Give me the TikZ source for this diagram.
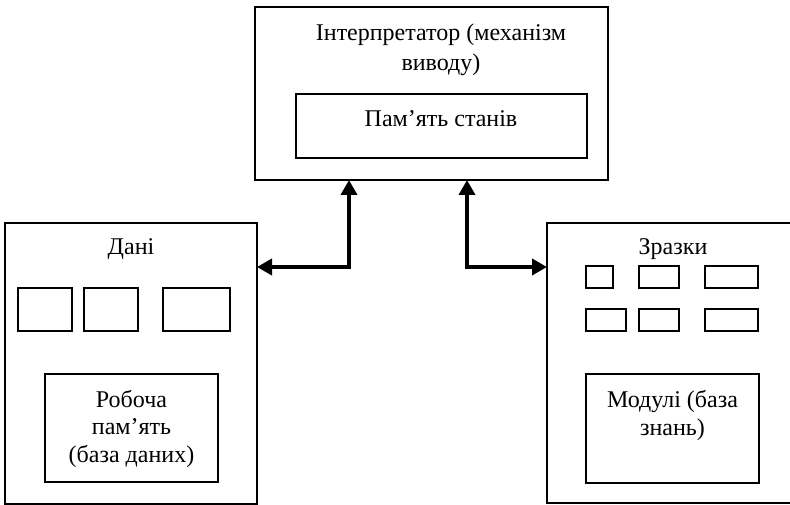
\documentclass[tikz,border=0pt]{standalone}
\usepackage{fontspec}
\setmainfont{Liberation Serif}
\usetikzlibrary{arrows.meta}
\begin{document}
\begin{tikzpicture}[x=1pt,y=-1pt,
  box/.style={draw,line width=1.7pt,inner sep=0pt,outer sep=0pt},
  lbl/.style={font=\fontsize{24}{28}\selectfont,align=center,inner sep=0pt},
  link/.style={line width=4.8pt,{Triangle[length=15pt,width=16pt]}-{Triangle[length=15pt,width=16pt]}}]
\useasboundingbox (0,0) rectangle (790,505);
\clip (0,0) rectangle (790,505);

% interpreter
\node[box,minimum width=353pt,minimum height=173pt] (interp) at (431.5,93.5) {};
\node[box,minimum width=291pt,minimum height=64pt] (states) at (441.5,126) {};
\node[lbl,font=\fontsize{24}{30}\selectfont] (interpT) at (441,50) {Інтерпретатор (механізм\\виводу)};
\node[lbl] (statesT) at (441,119) {Пам’ять станів};

% data
\node[box,minimum width=252pt,minimum height=281pt] (data) at (131,363.5) {};
\node[lbl] (dataT) at (131,249) {Дані};
\node[box,minimum width=54pt,minimum height=43pt] (d1) at (45,309.5) {};
\node[box,minimum width=54pt,minimum height=43pt] (d2) at (111,309.5) {};
\node[box,minimum width=67pt,minimum height=43pt] (d3) at (196.5,309.5) {};
\node[box,minimum width=173pt,minimum height=108pt] (wm) at (131.5,428) {};
\node[lbl,font=\fontsize{24}{27.5}\selectfont] (wmT) at (131.5,428.5) {Робоча\\пам’ять\\(база даних)};

% patterns
\node[box,minimum width=253pt,minimum height=280pt] (pat) at (673.5,363) {};
\node[lbl] (patT) at (673,249) {Зразки};
\node[box,minimum width=27pt,minimum height=22pt] (p1) at (599.5,277) {};
\node[box,minimum width=40pt,minimum height=22pt] (p2) at (659,277) {};
\node[box,minimum width=53pt,minimum height=22pt] (p3) at (731.5,277) {};
\node[box,minimum width=40pt,minimum height=22pt] (p4) at (606,320) {};
\node[box,minimum width=40pt,minimum height=22pt] (p5) at (659,320) {};
\node[box,minimum width=53pt,minimum height=22pt] (p6) at (731.5,320) {};
\node[box,minimum width=173pt,minimum height=109pt] (mod) at (672.5,428.5) {};
\node[lbl] (modT) at (672.5,415) {Модулі (база\\знань)};

% connectors
\coordinate (bendL) at (349,267);
\coordinate (bendR) at (467,267);
\draw[link] (interp.south -| bendL) |- (data.east |- bendL);
\draw[link] (interp.south -| bendR) |- (pat.west |- bendR);
\end{tikzpicture}
\end{document}
